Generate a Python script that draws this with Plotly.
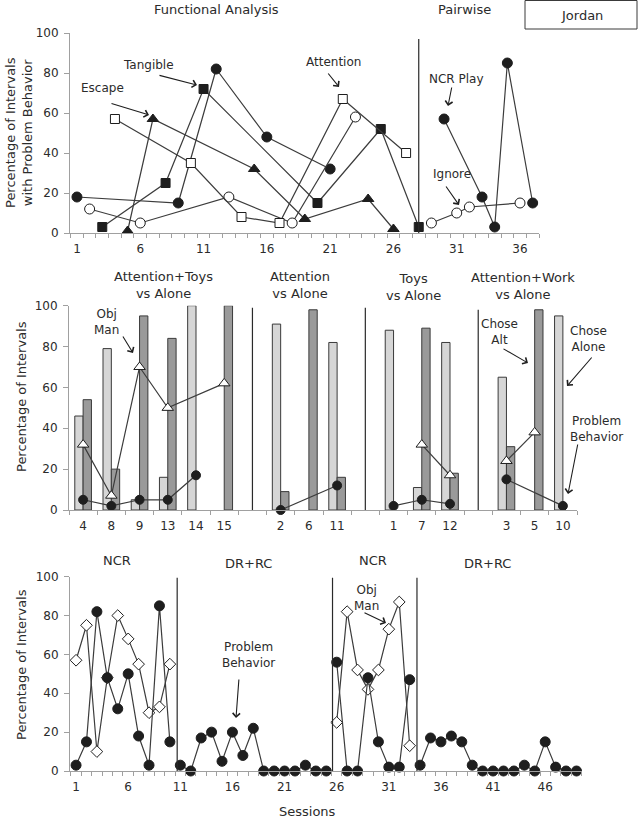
import plotly.graph_objects as go

W, H = 640, 821

# ---------------- Top panel: Functional Analysis + Pairwise ----------------
fa_play_x = [1, 9, 12, 16, 21]
fa_play_y = [18, 15, 82, 48, 32]
fa_alone_x = [2, 6, 13, 18, 23]
fa_alone_y = [12, 5, 18, 5, 58]
fa_tangible_x = [3, 8, 11, 20, 25, 28]
fa_tangible_y = [3, 25, 72, 15, 52, 3]
fa_escape_x = [5, 7, 15, 19, 24, 26]
fa_escape_y = [1, 57, 32, 7, 17, 2]
fa_attention_x = [4, 10, 14, 17, 22, 27]
fa_attention_y = [57, 35, 8, 5, 67, 40]
pw_ncr_x = [30, 33, 34, 35, 37]
pw_ncr_y = [57, 18, 3, 85, 15]
pw_ignore_x = [29, 31, 32, 36]
pw_ignore_y = [5, 10, 13, 15]
top_ticks = [1, 6, 11, 16, 21, 26, 31, 36]
top_phase_lines = [28]

# ---------------- Middle panel: choice assessment ----------------
mid_labels = ["4", "8", "9", "13", "14", "15", "", "2", "6", "11", "", "1", "7", "12", "", "3", "5", "10"]
mid_phase = [1, 1, 1, 1, 1, 1, 0, 2, 2, 2, 0, 3, 3, 3, 0, 4, 4, 4]
mid_chose_alt = [46, 79, 5, 16, 100, None, None, 91, None, 82, None, 88, 11, 82, None, 65, None, 95]
mid_chose_alone = [54, 20, 95, 84, None, 100, None, 9, 98, 16, None, None, 89, 18, None, 31, 98, None]
mid_obj_man = [32, 7, 70, 50, None, 62, None, None, None, None, None, None, 32, 17, None, 24, 38, None]
mid_problem = [5, 2, 5, 5, 17, None, None, 0, None, 12, None, 2, 5, 3, None, 15, None, 2]
mid_phase_lines = [6, 10, 14]

# ---------------- Bottom panel: treatment ----------------
bot_sessions = list(range(1, 50))
bot_phase_starts = [1, 11, 26, 34]
bot_problem = [3, 15, 82, 48, 32, 50, 18, 3, 85, 15,
               3, 0, 17, 20, 5, 20, 8, 22, 0, 0, 0, 0, 3, 0, 0,
               56, 0, 0, 48, 15, 2, 2, 47,
               3, 17, 15, 18, 15, 3, 0, 0, 0, 0, 3, 0, 15, 2, 0, 0]
bot_obj_man = [57, 75, 10, 48, 80, 68, 55, 30, 33, 55] + [None] * 15 + \
              [25, 82, 52, 42, 52, 73, 87, 13] + [None] * 16
bot_ticks = [1, 6, 11, 16, 21, 26, 31, 36, 41, 46]
bot_phase_lines = [10.7, 25.6, 33.7]

FONT = "DejaVu Sans"
TXT = "#2b2b2b"
LINE = "#3c3c3c"
MK = "#1e1e1e"
AX = "#a0a0a0"


def px_x(x):
    return x / W


def px_y(y):
    return 1 - y / H


fig = go.Figure()


def line_trace(x, y, symbol, size, filled, xa, ya):
    fig.add_trace(go.Scatter(
        x=x, y=y, mode="lines+markers", xaxis=xa, yaxis=ya, cliponaxis=False,
        line=dict(color=LINE, width=1.2),
        marker=dict(symbol=symbol, size=size, color=MK if filled else "white",
                    line=dict(color=MK, width=1)),
        showlegend=False, hoverinfo="skip", connectgaps=False))


# top
line_trace(fa_play_x, fa_play_y, "circle", 10, True, "x", "y")
line_trace(fa_alone_x, fa_alone_y, "circle", 10, False, "x", "y")
line_trace(fa_tangible_x, fa_tangible_y, "square", 9, True, "x", "y")
line_trace(fa_escape_x, fa_escape_y, "triangle-up", 10, True, "x", "y")
line_trace(fa_attention_x, fa_attention_y, "square", 9, False, "x", "y")
line_trace(pw_ncr_x, pw_ncr_y, "circle", 10, True, "x", "y")
line_trace(pw_ignore_x, pw_ignore_y, "circle", 10, False, "x", "y")

# middle
idx = list(range(len(mid_labels)))
fig.add_trace(go.Bar(x=idx, y=mid_chose_alt, xaxis="x2", yaxis="y2",
                     marker=dict(color="#d6d6d6", line=dict(color="#3a3a3a", width=1)),
                     showlegend=False, hoverinfo="skip"))
fig.add_trace(go.Bar(x=idx, y=mid_chose_alone, xaxis="x2", yaxis="y2",
                     marker=dict(color="#9a9a9a", line=dict(color="#3a3a3a", width=1)),
                     showlegend=False, hoverinfo="skip"))


def phased(xs, ys, phases):
    ox, oy = [], []
    prev = None
    for x, y, p in zip(xs, ys, phases):
        if y is None:
            continue
        if prev is not None and p != prev:
            ox.append(None)
            oy.append(None)
        ox.append(x)
        oy.append(y)
        prev = p
    return ox, oy


mx, my = phased(idx, mid_obj_man, mid_phase)
line_trace(mx, my, "triangle-up", 10, False, "x2", "y2")
mx, my = phased(idx, mid_problem, mid_phase)
line_trace(mx, my, "circle", 9, True, "x2", "y2")

# bottom
bot_phase = [sum(1 for s in bot_phase_starts if s <= ses) for ses in bot_sessions]
bx, by = phased(bot_sessions, bot_obj_man, bot_phase)
line_trace(bx, by, "diamond", 9, False, "x3", "y3")
bx, by = phased(bot_sessions, bot_problem, bot_phase)
line_trace(bx, by, "circle", 10, True, "x3", "y3")

tickfont = dict(family=FONT, size=12, color=TXT)


def xaxis(dom, rng, tv, tt, minor0):
    return dict(domain=dom, range=rng, showline=True, linecolor=AX, linewidth=1,
                showgrid=False, zeroline=False, tickvals=tv, ticktext=tt,
                ticks="outside", ticklen=5, tickcolor="rgba(0,0,0,0)",
                tickfont=tickfont, fixedrange=True, automargin=False,
                minor=dict(tick0=minor0, dtick=1, ticks="outside", ticklen=4,
                           tickcolor=AX, showgrid=False))


def yaxis(dom, anchor):
    return dict(domain=dom, range=[0, 100], showline=True, linecolor=AX, linewidth=1,
                showgrid=False, zeroline=False, tickvals=[0, 20, 40, 60, 80, 100],
                ticks="outside", ticklen=5, tickcolor=AX, tickfont=tickfont,
                ticklabelstandoff=3, automargin=False,
                anchor=anchor, fixedrange=True)


fig.update_layout(
    width=W, height=H, margin=dict(l=0, r=0, t=0, b=0, pad=0, autoexpand=False),
    paper_bgcolor="white", plot_bgcolor="white",
    barmode="group", bargap=0.41, bargroupgap=0,
    font=dict(family=FONT, color=TXT),
    xaxis=dict(**xaxis([70 / W, 539 / W], [0.45, 37.5], top_ticks,
                       [str(t) for t in top_ticks], 0.5), anchor="y"),
    yaxis=yaxis([px_y(233), px_y(33)], "x"),
    xaxis2=dict(**xaxis([69 / W, 577 / W], [-0.5, 17.5],
                        [i for i in idx if mid_labels[i]],
                        [l for l in mid_labels if l], -0.5), anchor="y2"),
    yaxis2=yaxis([px_y(510), px_y(305.7)], "x2"),
    xaxis3=dict(**xaxis([70 / W, 581.7 / W], [0.42, 49.5], bot_ticks,
                        [str(t) for t in bot_ticks], 0.5), anchor="y3"),
    yaxis3=yaxis([px_y(771), px_y(576.7)], "x3"),
)

shapes = []
for xv in top_phase_lines:
    shapes.append(dict(type="line", xref="x", yref="y", x0=xv, x1=xv, y0=0, y1=97,
                       line=dict(color="#2a2a2a", width=1.2)))
for xv, top in zip(mid_phase_lines, [99, 99, 98]):
    shapes.append(dict(type="line", xref="x2", yref="y2", x0=xv, x1=xv, y0=0, y1=top,
                       line=dict(color="#2a2a2a", width=1.2)))
for xv in bot_phase_lines:
    shapes.append(dict(type="line", xref="x3", yref="y3", x0=xv, x1=xv, y0=0, y1=99.5,
                       line=dict(color="#2a2a2a", width=1.2)))
shapes.append(dict(type="rect", xref="paper", yref="paper",
                   x0=px_x(525), x1=px_x(637), y0=px_y(29), y1=px_y(0.5),
                   line=dict(color="#3a3a3a", width=1)))
fig.update_layout(shapes=shapes)

ann = []


def txt(s, x, y, size=12, angle=0):
    ann.append(dict(text=s, x=px_x(x), y=px_y(y), xref="paper", yref="paper",
                    showarrow=False, xanchor="center", yanchor="middle",
                    textangle=angle, font=dict(family=FONT, size=size, color=TXT)))


def arrow(tx, ty, hx, hy):
    ann.append(dict(text="", x=px_x(hx), y=px_y(hy), xref="paper", yref="paper",
                    ax=tx - hx, ay=ty - hy, showarrow=True, arrowhead=4,
                    arrowsize=1.3, arrowwidth=1.1, arrowcolor="#1e1e1e",
                    standoff=0, startstandoff=0))


# top texts
txt("Functional Analysis", 216, 9, 13)
txt("Pairwise", 464, 9, 13)
txt("Jordan", 582, 15, 13)
txt("Percentage of Intervals<br>with Problem Behavior", 19, 133, 13, -90)
txt("Tangible", 148, 65)
arrow(158, 75, 197, 85)
txt("Escape", 102, 88)
arrow(110, 103, 149, 115)
txt("Attention", 333, 62)
arrow(327, 72, 339, 87)
txt("NCR Play", 456, 79)
arrow(452, 86, 448, 106)
txt("Ignore", 452, 174)
arrow(445, 185, 459, 205)

# middle texts
txt("Attention+Toys<br>vs Alone", 163, 285, 13)
txt("Attention<br>vs Alone", 300, 285, 13)
txt("Toys<br>vs Alone", 413, 287, 13)
txt("Attention+Work<br>vs Alone", 523, 286, 13)
txt("Percentage of Intervals", 21, 397, 13, -90)
txt("Obj<br>Man", 106, 322)
arrow(122, 335, 133, 353)
txt("Chose<br>Alt", 499, 332)
arrow(502, 348, 528, 363)
txt("Chose<br>Alone", 588, 339)
arrow(593, 356, 567, 386)
txt("Problem<br>Behavior", 596, 429)
arrow(578, 443, 568, 494)

# bottom texts
txt("NCR", 117, 560, 13)
txt("DR+RC", 248, 563, 13)
txt("NCR", 373, 560, 13)
txt("DR+RC", 487, 563, 13)
txt("Percentage of Intervals", 21, 665, 13, -90)
txt("Problem<br>Behavior", 248, 655)
arrow(239, 678, 236, 718)
txt("Obj<br>Man", 366, 598)
arrow(363, 612, 386, 623)
txt("Sessions", 307, 811, 13)

fig.update_layout(annotations=ann)
fig.write_html("out.html", config={"displayModeBar": False},
               post_script="document.body.style.margin='0px';"
                           "document.body.style.overflow='hidden';")
